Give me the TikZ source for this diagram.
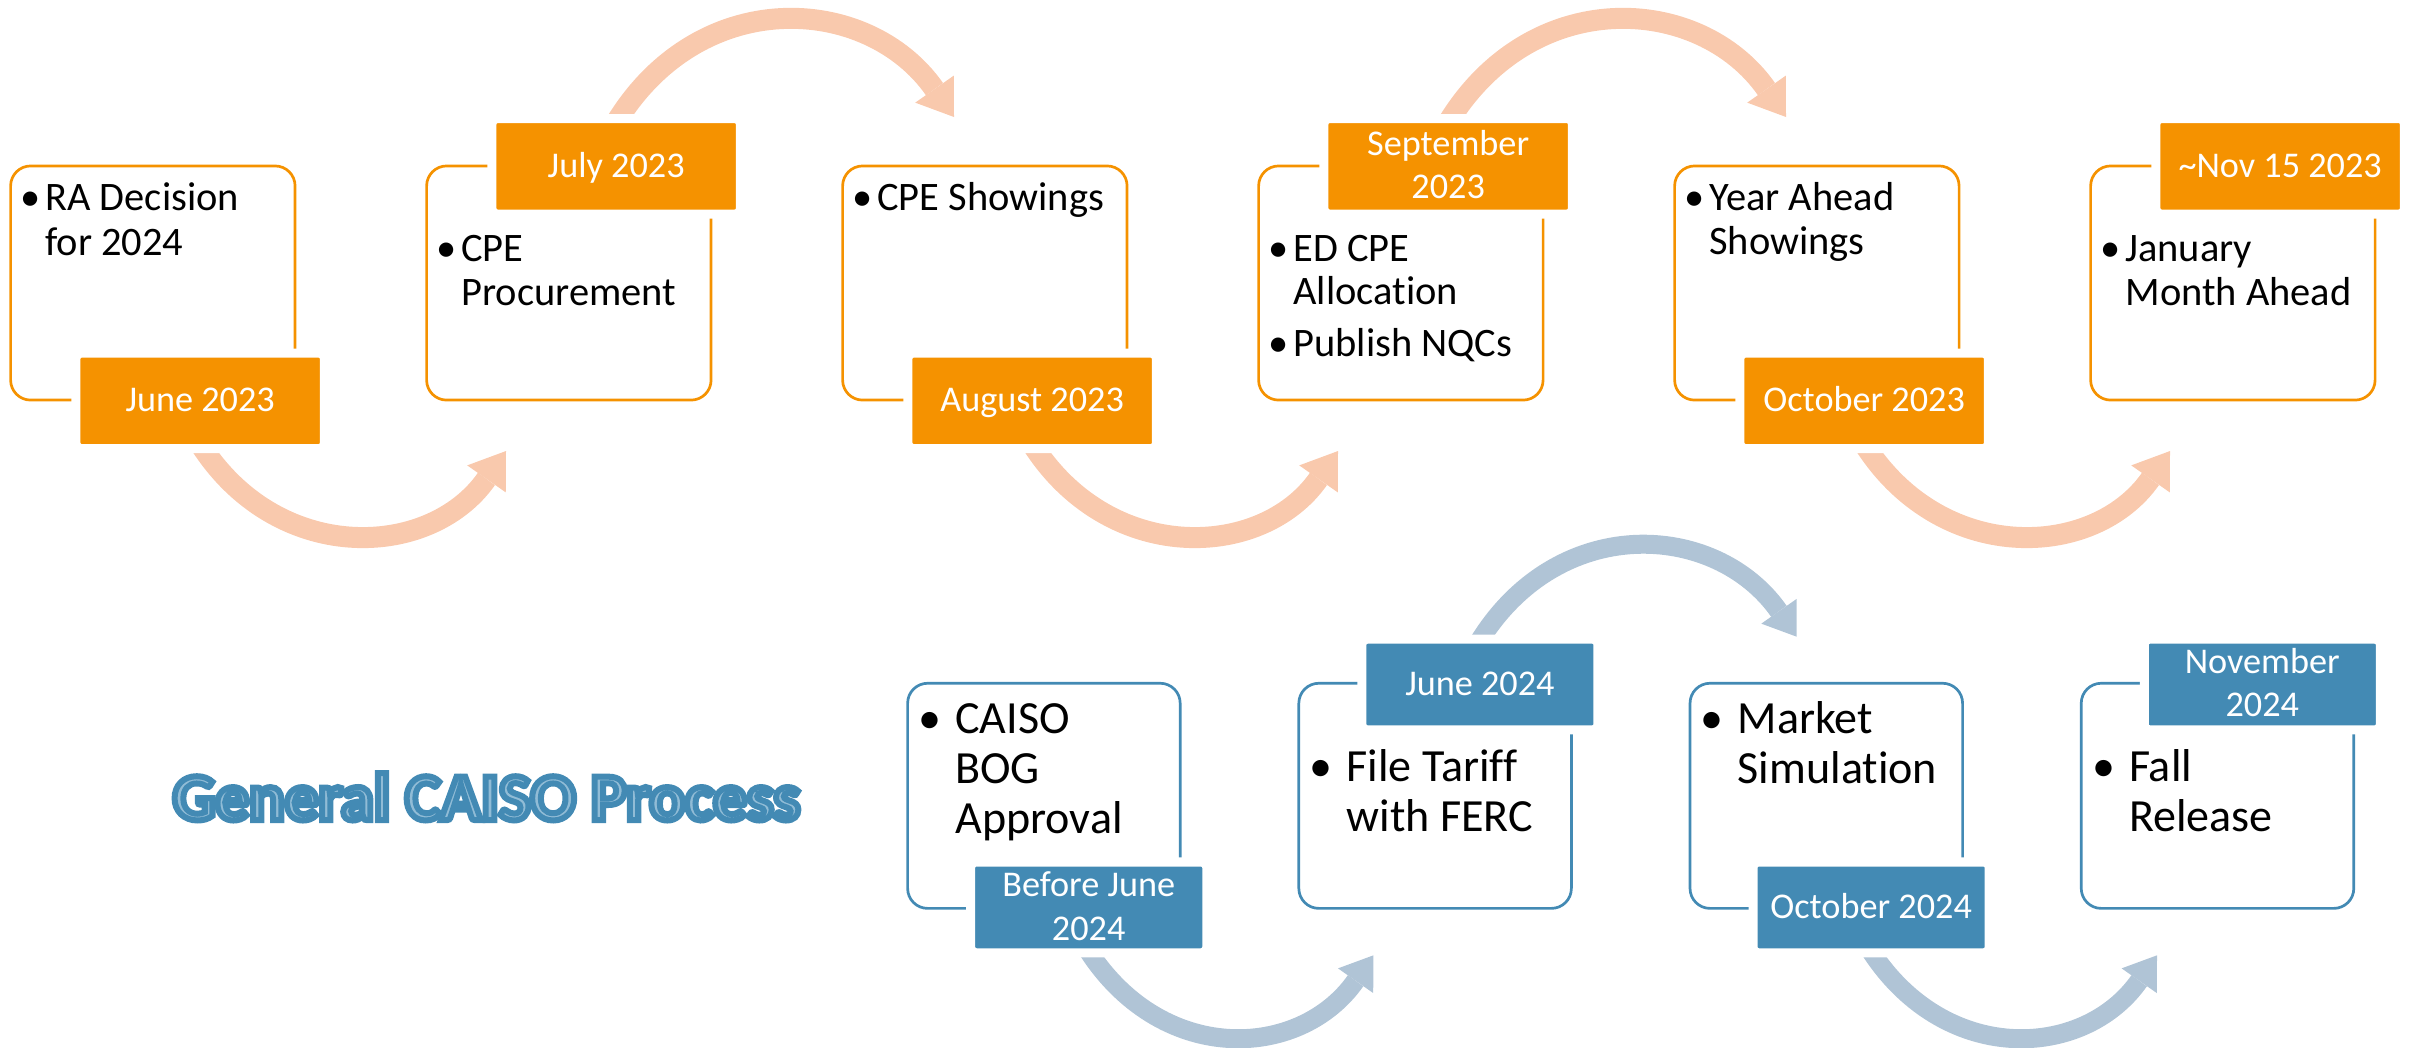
\documentclass[tikz,border=0pt]{standalone}
\usepackage{fontspec}
\setmainfont{Carlito}[Ligatures=NoCommon]
\newfontfamily\titlefont{Carlito Bold}[FakeBold=9]
\usetikzlibrary{arrows.meta}
\definecolor{corange}{RGB}{245,146,0}
\definecolor{carrowo}{RGB}{249,201,173}
\definecolor{cblue}{RGB}{67,138,180}
\definecolor{carrowb}{RGB}{176,196,214}
\definecolor{ctfill}{RGB}{145,188,214}
\begin{document}
\begin{tikzpicture}[x=0.01cm,y=-0.01cm,
 obox/.style={draw=corange, line width=0.027cm, fill=white, rounded corners=0.2cm, minimum width=2.843cm, minimum height=2.34cm, inner sep=0pt},
 olab/.style={fill=corange, draw=white, line width=0.09cm, rounded corners=0.05cm, minimum width=2.483cm, minimum height=0.955cm, inner sep=0pt},
 bbox/.style={draw=cblue, line width=0.027cm, fill=white, rounded corners=0.2cm, minimum width=2.724cm, minimum height=2.25cm, inner sep=0pt},
 blab/.style={fill=cblue, draw=white, line width=0.09cm, rounded corners=0.05cm, minimum width=2.36cm, minimum height=0.907cm, inner sep=0pt},
 ttxt/.style={anchor=base west, inner sep=0pt, font=\fontsize{11.5pt}{12.5pt}\selectfont},
 tbul/.style={anchor=base, inner sep=0pt, font=\fontsize{11.5pt}{12.5pt}\selectfont},
 btxt/.style={anchor=base west, inner sep=0pt, font=\fontsize{13.1pt}{14pt}\selectfont},
 bbul/.style={anchor=base, inner sep=0pt, font=\fontsize{13.1pt}{14pt}\selectfont},
 ltxt/.style={anchor=base, inner sep=0pt, text=white, font=\fontsize{10.3pt}{12pt}\selectfont},
 arrO/.style={draw=carrowo, line width=0.21cm, -{Triangle[width=0.47cm,length=0.34cm,line width=0pt]}},
 arrB/.style={draw=carrowb, line width=0.19cm, -{Triangle[width=0.43cm,length=0.31cm,line width=0pt]}},
]
\useasboundingbox (0,0) rectangle (2412,1047);

% ---------- arrows (drawn first) ----------
\coordinate (a01s) at (197.7,440.2);  \coordinate (a01t) at (506,451);
\coordinate (a23s) at (1029.7,440.2); \coordinate (a23t) at (1338,451);
\coordinate (a45s) at (1861.7,440.2); \coordinate (a45t) at (2170,451);
\coordinate (a12s) at (613.9,125.9);  \coordinate (a12t) at (954,117);
\coordinate (a34s) at (1445.9,125.9); \coordinate (a34t) at (1786,117);
\coordinate (c01s) at (1084.7,945.2); \coordinate (c01t) at (1373.4,955.3);
\coordinate (c23s) at (1867.1,945.2); \coordinate (c23t) at (2157,955.3);
\coordinate (c12s) at (1476.4,645.9); \coordinate (c12t) at (1796.7,636.7);

\draw[arrO] (a01s) .. controls +(77,125.8) and +(-76.3,108.9) .. (a01t);
\draw[arrO] (a23s) .. controls +(77,125.8) and +(-76.3,108.9) .. (a23t);
\draw[arrO] (a45s) .. controls +(77,125.8) and +(-76.3,108.9) .. (a45t);
\draw[arrO] (a12s) .. controls +(84,-142.1) and +(-86.1,-122.9) .. (a12t);
\draw[arrO] (a34s) .. controls +(84,-142.1) and +(-86.1,-122.9) .. (a34t);
\draw[arrB] (c01s) .. controls +(74.4,121.6) and +(-73.5,104.8) .. (c01t);
\draw[arrB] (c23s) .. controls +(74.4,121.6) and +(-73.5,104.8) .. (c23t);
\draw[arrB] (c12s) .. controls +(79.4,-134.3) and +(-80.9,-115.5) .. (c12t);

% ---------- top row boxes ----------
\node[obox] (A1) at (152.85,283) {};
\node[obox] (A2) at (568.85,283) {};
\node[obox] (A3) at (984.85,283) {};
\node[obox] (A4) at (1400.85,283) {};
\node[obox] (A5) at (1816.85,283) {};
\node[obox] (A6) at (2232.85,283) {};

\node[olab] (L1) at (200.15,400.8) {};
\node[olab] (L2) at (616.15,166.3) {};
\node[olab] (L3) at (1032.15,400.8) {};
\node[olab] (L4) at (1448.15,166.3) {};
\node[olab] (L5) at (1864.15,400.8) {};
\node[olab] (L6) at (2280.15,166.3) {};

\node[ltxt] (L1t) at (200.15,411.8) {June 2023};
\node[ltxt] (L2t) at (616.15,177.3) {July 2023};
\node[ltxt] (L3t) at (1032.15,411.8) {August 2023};
\node[ltxt] (L4ta) at (1448.15,155.1) {September};
\node[ltxt] (L4tb) at (1448.15,198.5) {2023};
\node[ltxt] (L5t) at (1864.15,411.8) {October 2023};
\node[ltxt] (L6t) at (2280.15,177.3) {\textasciitilde Nov 15 2023};

% top row texts
\node[tbul] (A1b) at (30.7,210.7) {\textbullet};
\node[ttxt] (A1a) at (44.7,210.7) {RA Decision};
\node[ttxt] (A1c) at (44.7,255) {for 2024};

\node[tbul] (A2b) at (446.7,261.7) {\textbullet};
\node[ttxt] (A2a) at (460.7,261.7) {CPE};
\node[ttxt] (A2c) at (460.7,305) {Procurement};

\node[tbul] (A3b) at (862.7,210.7) {\textbullet};
\node[ttxt] (A3a) at (876.7,210.7) {CPE Showings};

\node[tbul] (A4b) at (1278.7,261.7) {\textbullet};
\node[ttxt] (A4a) at (1292.7,261.7) {ED CPE};
\node[ttxt] (A4c) at (1292.7,304) {Allocation};
\node[tbul] (A4d) at (1278.7,356) {\textbullet};
\node[ttxt] (A4e) at (1292.7,356) {Publish NQCs};

\node[tbul] (A5b) at (1694.7,210.7) {\textbullet};
\node[ttxt] (A5a) at (1708.7,210.7) {Year Ahead};
\node[ttxt] (A5c) at (1708.7,254.5) {Showings};

\node[tbul] (A6b) at (2110.7,261.7) {\textbullet};
\node[ttxt] (A6a) at (2124.7,261.7) {January};
\node[ttxt] (A6c) at (2124.7,305) {Month Ahead};

% ---------- bottom row boxes ----------
\node[bbox] (B1) at (1043.9,795.8) {};
\node[bbox] (B2) at (1435.1,795.8) {};
\node[bbox] (B3) at (1826.3,795.8) {};
\node[bbox] (B4) at (2217.5,795.8) {};

\node[blab] (M1) at (1088.7,907.35) {};
\node[blab] (M2) at (1479.9,684.5) {};
\node[blab] (M3) at (1871.1,907.35) {};
\node[blab] (M4) at (2262.3,684.5) {};

\node[ltxt] (M1ta) at (1088.7,896.5) {Before June};
\node[ltxt] (M1tb) at (1088.7,940) {2024};
\node[ltxt] (M2t) at (1479.9,695.3) {June 2024};
\node[ltxt] (M3t) at (1871.1,918.3) {October 2024};
\node[ltxt] (M4ta) at (2262.3,673.3) {November};
\node[ltxt] (M4tb) at (2262.3,716.7) {2024};

\node[bbul] (B1b) at (930,733.3) {\textbullet};
\node[btxt] (B1a) at (954.7,733.3) {CAISO};
\node[btxt] (B1c) at (954.7,783.3) {BOG};
\node[btxt] (B1d) at (954.7,833.3) {Approval};

\node[bbul] (B2b) at (1321.2,781.7) {\textbullet};
\node[btxt] (B2a) at (1345.9,781.7) {File Tariff};
\node[btxt] (B2c) at (1345.9,831.7) {with FERC};

\node[bbul] (B3b) at (1712.4,733.3) {\textbullet};
\node[btxt] (B3a) at (1737.1,733.3) {Market};
\node[btxt] (B3c) at (1737.1,783.3) {Simulation};

\node[bbul] (B4b) at (2103.6,781.7) {\textbullet};
\node[btxt] (B4a) at (2128.3,781.7) {Fall};
\node[btxt] (B4c) at (2128.3,831.7) {Release};

% ---------- title ----------
\node[anchor=base, inner sep=0pt, font=\fontsize{19pt}{22pt}\titlefont, text=ctfill] (title) at (486.5,820)
  {\special{pdf:literal direct 0.263 0.541 0.706 RG}General CAISO Process};
\end{tikzpicture}
\end{document}
